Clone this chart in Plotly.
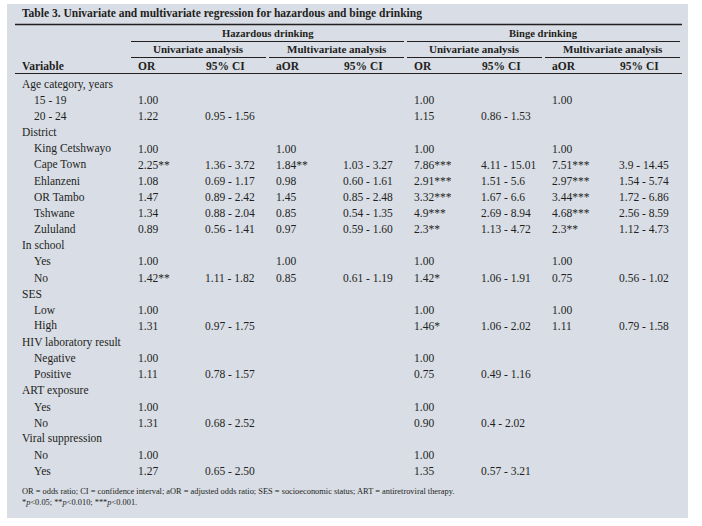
import plotly.graph_objects as go

# Rows of the table (level 0 = category heading, 1 = indented sub-item)
variables = ["Age category, years", "15 - 19", "20 - 24",
             "District", "King Cetshwayo", "Cape Town", "Ehlanzeni", "OR Tambo", "Tshwane", "Zululand",
             "In school", "Yes", "No",
             "SES", "Low", "High",
             "HIV laboratory result", "Negative", "Positive",
             "ART exposure", "Yes", "No",
             "Viral suppression", "No", "Yes"]
levels = [0, 1, 1, 0, 1, 1, 1, 1, 1, 1, 0, 1, 1, 0, 1, 1, 0, 1, 1, 0, 1, 1, 0, 1, 1]

# Hazardous drinking
haz_or = ["", "1.00", "1.22", "", "1.00", "2.25**", "1.08", "1.47", "1.34", "0.89",
          "", "1.00", "1.42**", "", "1.00", "1.31", "", "1.00", "1.11", "", "1.00", "1.31", "", "1.00", "1.27"]
haz_or_ci = ["", "", "0.95 - 1.56", "", "", "1.36 - 3.72", "0.69 - 1.17", "0.89 - 2.42", "0.88 - 2.04", "0.56 - 1.41",
             "", "", "1.11 - 1.82", "", "", "0.97 - 1.75", "", "", "0.78 - 1.57", "", "", "0.68 - 2.52", "", "", "0.65 - 2.50"]
haz_aor = ["", "", "", "", "1.00", "1.84**", "0.98", "1.45", "0.85", "0.97",
           "", "1.00", "0.85", "", "", "", "", "", "", "", "", "", "", "", ""]
haz_aor_ci = ["", "", "", "", "", "1.03 - 3.27", "0.60 - 1.61", "0.85 - 2.48", "0.54 - 1.35", "0.59 - 1.60",
              "", "", "0.61 - 1.19", "", "", "", "", "", "", "", "", "", "", "", ""]

# Binge drinking
binge_or = ["", "1.00", "1.15", "", "1.00", "7.86***", "2.91***", "3.32***", "4.9***", "2.3**",
            "", "1.00", "1.42*", "", "1.00", "1.46*", "", "1.00", "0.75", "", "1.00", "0.90", "", "1.00", "1.35"]
binge_or_ci = ["", "", "0.86 - 1.53", "", "", "4.11 - 15.01", "1.51 - 5.6", "1.67 - 6.6", "2.69 - 8.94", "1.13 - 4.72",
               "", "", "1.06 - 1.91", "", "", "1.06 - 2.02", "", "", "0.49 - 1.16", "", "", "0.4 - 2.02", "", "", "0.57 - 3.21"]
binge_aor = ["", "1.00", "", "", "1.00", "7.51***", "2.97***", "3.44***", "4.68***", "2.3**",
             "", "1.00", "0.75", "", "1.00", "1.11", "", "", "", "", "", "", "", "", ""]
binge_aor_ci = ["", "", "", "", "", "3.9 - 14.45", "1.54 - 5.74", "1.72 - 6.86", "2.56 - 8.59", "1.12 - 4.73",
                "", "", "0.56 - 1.02", "", "", "0.79 - 1.58", "", "", "", "", "", "", "", "", ""]

title = "Table 3. Univariate and multivariate regression for hazardous and binge drinking"
groups = ["Hazardous drinking", "Binge drinking"]
analyses = ["Univariate analysis", "Multivariate analysis"]
col_heads = ["OR", "95% CI", "aOR", "95% CI"]
footnotes = ["OR = odds ratio; CI = confidence interval; aOR = adjusted odds ratio; "
             "SES = socioeconomic status; ART = antiretroviral therapy.",
             "*<i>p</i>&lt;0.05; **<i>p</i>&lt;0.010; ***<i>p</i>&lt;0.001."]

# layout (pixels)
FONT = "Liberation Serif"
INK = "#231f20"
BG = "#d9dde6"
W, H = 702, 526
L, R = 15, 682
blocks = [131, 269, 407, 545]
block_w = 135
row0, row_h = 84, 16.125
size = 11.5

fig = go.Figure()
shapes = []
ann = []


def text(x, y, s, bold=False, sz=size, xanchor="left"):
    ann.append(dict(x=x, y=y, text=f"<b>{s}</b>" if bold else s, xref="x", yref="y",
                    showarrow=False, xanchor=xanchor, yanchor="middle",
                    font=dict(family=FONT, size=sz, color=INK)))


def hline(x0, x1, y, w=1):
    shapes.append(dict(type="line", x0=x0, x1=x1, y0=y, y1=y, xref="x", yref="y",
                       line=dict(color=INK, width=w)))


# background panel
shapes.append(dict(type="rect", x0=7, x1=688, y0=4, y1=518, xref="x", yref="y",
                   fillcolor=BG, line=dict(width=0), layer="below"))

# title and header
text(20, 13, title, bold=True, sz=11.5)
hline(L, R, 24.5, 1.5)
for g, name in enumerate(groups):
    x0, x1 = blocks[2 * g], blocks[2 * g + 1] + block_w
    text((x0 + x1) / 2, 33, name, bold=True, sz=10.6, xanchor="center")
    hline(x0, x1, 41.5)
for b, x0 in enumerate(blocks):
    text(x0 + block_w / 2, 49, analyses[b % 2], bold=True, sz=11, xanchor="center")
    hline(x0, x0 + block_w, 57.5)
    heads = col_heads[2 * (b % 2):2 * (b % 2) + 2]
    text(x0 + 5, 66, heads[0], bold=True)
    text(x0 + 73, 66, heads[1], bold=True)
text(20, 66, "Variable", bold=True)
hline(L, R, 73.5)

# body
columns = [haz_or, haz_or_ci, haz_aor, haz_aor_ci, binge_or, binge_or_ci, binge_aor, binge_aor_ci]
for i, (lab, lev) in enumerate(zip(variables, levels)):
    y = row0 + i * row_h
    text(20 + 12 * lev, y, lab)
    for c, col in enumerate(columns):
        if col[i]:
            x0 = blocks[c // 2]
            text(x0 + (5 if c % 2 == 0 else 72), y, col[i])

for k, f in enumerate(footnotes):
    text(20, 491 + 11 * k, f, sz=8.4)

fig.update_layout(
    width=W, height=H, margin=dict(l=0, r=0, t=0, b=0),
    paper_bgcolor="white", plot_bgcolor="white",
    xaxis=dict(range=[0, W], visible=False, fixedrange=True),
    yaxis=dict(range=[H, 0], visible=False, fixedrange=True),
    shapes=shapes, annotations=ann, showlegend=False,
)

# drop the page's default body margin so the figure sits at the window origin
fig.write_html("out.html", config={"displayModeBar": False},
               post_script="document.body.style.margin = '0px';")
